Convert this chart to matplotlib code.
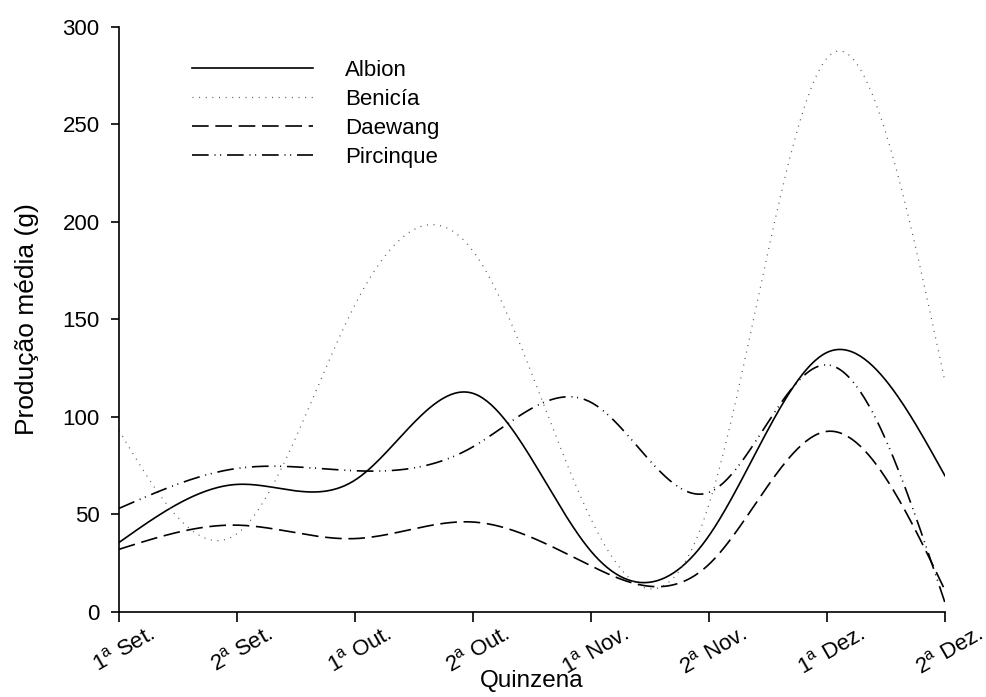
import numpy as np
import matplotlib.pyplot as plt
from matplotlib.transforms import ScaledTranslation

plt.rcParams['font.family'] = ['Liberation Sans', 'DejaVu Sans']
plt.rcParams['mathtext.fontset'] = 'custom'
plt.rcParams['mathtext.rm'] = 'Liberation Sans'

# quinzenas (ordem no eixo x)
quinzenas = [r'1$^{\mathrm{a}}$ Set.', r'2$^{\mathrm{a}}$ Set.', r'1$^{\mathrm{a}}$ Out.', r'2$^{\mathrm{a}}$ Out.',
             r'1$^{\mathrm{a}}$ Nov.', r'2$^{\mathrm{a}}$ Nov.', r'1$^{\mathrm{a}}$ Dez.', r'2$^{\mathrm{a}}$ Dez.']

# producao media (g) por cultivar
albion = [35.5, 65.3, 67.5, 112, 31, 39, 133, 69.7]
benicia = [93, 40, 157.5, 185, 47.5, 55, 284, 118]
daewang = [32, 44.4, 37.5, 46, 23.5, 24.3, 92.5, 11]
pircinque = [53, 73.5, 72.3, 84.6, 107.4, 61.2, 126.6, 4.6]


def natural_spline(x, y, xs):
    # spline cubica natural (sem scipy)
    x = np.asarray(x, float)
    y = np.asarray(y, float)
    n = len(x)
    h = np.diff(x)
    A = np.zeros((n, n))
    b = np.zeros(n)
    A[0, 0] = 1
    A[-1, -1] = 1
    for i in range(1, n - 1):
        A[i, i - 1] = h[i - 1]
        A[i, i] = 2 * (h[i - 1] + h[i])
        A[i, i + 1] = h[i]
        b[i] = 6 * ((y[i + 1] - y[i]) / h[i] - (y[i] - y[i - 1]) / h[i - 1])
    M = np.linalg.solve(A, b)
    idx = np.clip(np.searchsorted(x, xs) - 1, 0, n - 2)
    x0, x1 = x[idx], x[idx + 1]
    hh = x1 - x0
    t0 = x1 - xs
    t1 = xs - x0
    return (M[idx] * t0**3 / (6 * hh) + M[idx + 1] * t1**3 / (6 * hh)
            + (y[idx] / hh - M[idx] * hh / 6) * t0
            + (y[idx + 1] / hh - M[idx + 1] * hh / 6) * t1)


xpos = np.arange(len(quinzenas))
xs = np.linspace(0, len(quinzenas) - 1, 400)

fig = plt.figure(figsize=(9.86, 6.97), dpi=100)
ax = fig.add_axes([0.1207, 0.1224, 0.8377, 0.839])

series = [
    ('Albion', albion, dict(color='black', lw=1.2, linestyle='-')),
    ('Benicía', benicia, dict(color='#555555', lw=0.9, linestyle=(0, (0.8, 4.5)))),
    ('Daewang', daewang, dict(color='black', lw=1.2, linestyle=(0, (10, 4)))),
    ('Pircinque', pircinque, dict(color='black', lw=1.2, linestyle=(0, (10, 3.5, 0.6, 2.8, 0.6, 3.5)))),
]
for name, vals, style in series:
    ax.plot(xs, natural_spline(xpos, vals, xs), label=name, **style)

ax.set_xlim(0, 7)
ax.set_ylim(0, 300)
ax.set_yticks(np.arange(0, 301, 50))
ax.set_xticks(xpos)

for side in ['top', 'right']:
    ax.spines[side].set_visible(False)
for side in ['left', 'bottom']:
    ax.spines[side].set_linewidth(1.2)
ax.tick_params(direction='out', length=6, width=1.2, labelsize=16, pad=8)
ax.tick_params(axis='x', length=7, pad=1)

# rotulos inclinados, um pouco deslocados para a direita como no original
ax.set_xticklabels(quinzenas, rotation=30, ha='center', va='top')
for lab in ax.get_xticklabels():
    lab.set_transform(lab.get_transform() + ScaledTranslation(0.05, 0, fig.dpi_scale_trans))

ax.set_xlabel('Quinzena', fontsize=17.5, labelpad=-6)
ax.set_ylabel('Produção média (g)', fontsize=19, labelpad=17)

ax.legend(loc='upper left', bbox_to_anchor=(0.088, 0.943), frameon=False, fontsize=16,
          handlelength=5.45, handletextpad=1.45, labelspacing=0.36, borderpad=0, borderaxespad=0)

fig.savefig('out.png', dpi=100)
